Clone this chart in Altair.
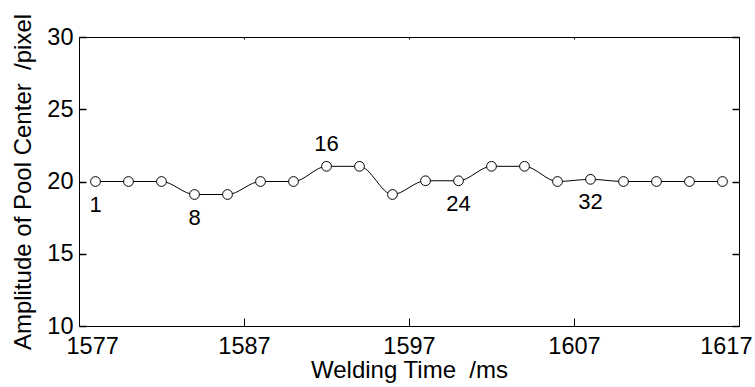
import altair as alt
import pandas as pd

time_ms = [1578, 1580, 1582, 1584, 1586, 1588, 1590, 1592, 1594, 1596,
           1598, 1600, 1602, 1604, 1606, 1608, 1610, 1612, 1614, 1616]
amplitude = [20.0, 20.0, 20.0, 19.1, 19.1, 20.0, 20.0, 21.05, 21.05, 19.1,
             20.05, 20.05, 21.05, 21.05, 20.0, 20.15, 20.0, 20.0, 20.0, 20.0]
frame_labels = ["1", "", "", "8", "", "", "", "16", "", "", "", "24", "", "", "", "32", "", "", "", ""]
label_above = [False] * 20
label_above[7] = True
x_ticks = [1577, 1587, 1597, 1607, 1617]
y_ticks = [10, 15, 20, 25, 30]
x_title = "Welding Time\u00a0\u00a0/ms"
y_title = "Amplitude of Pool Center\u00a0\u00a0/pixel"

df = pd.DataFrame({"t": time_ms, "a": amplitude, "lab": frame_labels, "above": label_above})

FONT = "Liberation Sans"
xs = alt.Scale(domain=[1577, 1617], nice=False, zero=False)
ys = alt.Scale(domain=[10, 30], nice=False, zero=False)

base = alt.Chart(df)

line = base.mark_line(color="black", strokeWidth=1, interpolate="monotone").encode(
    x=alt.X("t:Q", scale=xs, axis=alt.Axis(
        orient="bottom", values=x_ticks, format="d", ticks=False, domain=False, grid=False,
        labelFontSize=23.5, labelFont=FONT, labelColor="black", labelPadding=8,
        labelFlush=True, labelFlushOffset=13,
        title=x_title, titleFontSize=24, titleFont=FONT, titleFontWeight="normal",
        titleColor="black", titlePadding=1)),
    y=alt.Y("a:Q", scale=ys, axis=alt.Axis(
        orient="left", values=y_ticks, ticks=False, domain=False, grid=False,
        labelFontSize=23.5, labelFont=FONT, labelColor="black", labelPadding=6,
        labelFlush=False,
        title=y_title, titleFontSize=24, titleFont=FONT,
        titleFontWeight="normal", titleColor="black", titlePadding=11)),
)

points = base.mark_point(shape="circle", size=95, filled=True, fill="white",
                         stroke="black", strokeWidth=1, opacity=1).encode(
    x=alt.X("t:Q", scale=xs, axis=alt.Axis(
        orient="bottom", values=x_ticks, labels=False, domain=False, grid=False,
        ticks=True, tickSize=8, tickColor="black", tickWidth=1, offset=-8, title=None)),
    y=alt.Y("a:Q", scale=ys, axis=alt.Axis(
        orient="left", values=y_ticks, labels=False, domain=False, grid=False,
        ticks=True, tickSize=7, tickColor="black", tickWidth=1.5, offset=-7, title=None)),
)

text_below = base.transform_filter("datum.lab != '' && !datum.above").mark_text(
    font=FONT, fontSize=22, color="black", dy=23, baseline="middle", align="center").encode(
    x=alt.X("t:Q", scale=xs, axis=alt.Axis(
        orient="top", values=x_ticks, labels=False, domain=False, grid=False,
        ticks=True, tickSize=2, tickColor="black", tickWidth=1, offset=-2, title=None)),
    y=alt.Y("a:Q", scale=ys, axis=alt.Axis(
        orient="right", values=y_ticks, labels=False, domain=False, grid=False,
        ticks=True, tickSize=7, tickColor="black", tickWidth=1.5, offset=-7, title=None)),
    text="lab:N",
)

text_above = base.transform_filter("datum.above").mark_text(
    font=FONT, fontSize=22, color="black", dy=-22, baseline="middle", align="center").encode(
    x=alt.X("t:Q", scale=xs, axis=None),
    y=alt.Y("a:Q", scale=ys, axis=None),
    text="lab:N",
)

chart = alt.layer(line, points, text_below, text_above).resolve_axis(
    x="independent", y="independent"
).properties(
    width=660, height=289,
    padding={"left": 79, "top": 37, "right": 16, "bottom": 61},
    autosize=alt.AutoSizeParams(type="none"),
    background="white",
).configure_view(stroke="black", strokeWidth=1)

chart.save("out.html", embed_options={"renderer": "svg", "actions": False})
